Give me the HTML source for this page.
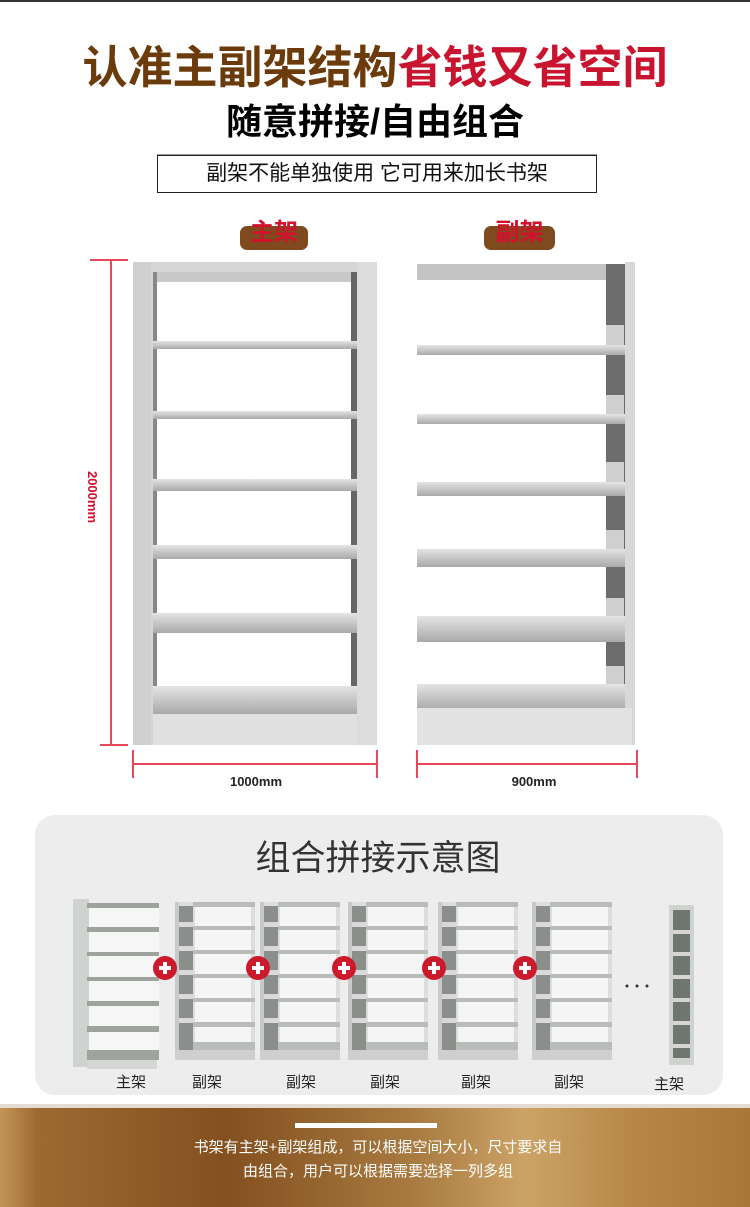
<!DOCTYPE html>
<html><head><meta charset="utf-8"><style>
*{margin:0;padding:0}
body{width:750px;height:1207px;background:#fff;position:relative;overflow:hidden;font-family:"Liberation Sans","Noto Sans CJK SC",sans-serif}
.a{position:absolute;white-space:nowrap}
</style></head><body>
<div class="a" style="left:0;top:0;width:750px;height:2px;background:#333"></div>
<div class="a" style="left:0;top:41px;width:750px;text-align:center;font-size:45px;font-weight:bold;line-height:54px;letter-spacing:0px"><span style="color:#6b3b0c">认准主副架结构</span><span style="color:#c8142e">省钱又省空间</span></div>
<div class="a" style="left:0;top:100px;width:750px;text-align:center;font-size:36px;font-weight:bold;line-height:44px;color:#000">随意拼接/自由组合</div>
<div class="a" style="left:157px;top:155px;width:438px;height:36px;border:1px solid #222;box-shadow:0 -1px 0 #999;text-align:center;font-size:21px;line-height:36px;color:#111">副架不能单独使用 它可用来加长书架</div>
<div class="a" style="left:240px;top:226px;width:68px;height:24px;background:#7e4a1e;border-radius:7px"></div>
<div class="a" style="left:240px;top:212px;width:68px;text-align:center;font-size:24px;font-weight:bold;color:#d0122c">主架</div>
<div class="a" style="left:484px;top:226px;width:71px;height:24px;background:#7e4a1e;border-radius:7px"></div>
<div class="a" style="left:484px;top:212px;width:71px;text-align:center;font-size:24px;font-weight:bold;color:#d0122c">副架</div>

<svg class="a" style="left:0;top:0" width="750" height="1207">
<defs>
<linearGradient id="sh" x1="0" y1="0" x2="0" y2="1"><stop offset="0" stop-color="#e4e4e4"/><stop offset="1" stop-color="#a9a9a9"/></linearGradient>
<g id="ss">
<rect x="0" y="0" width="80" height="158" fill="#ddd"/>
<rect x="0" y="0" width="4" height="158" fill="#c9c9c9"/>
<rect x="4" y="4" width="14" height="150" fill="#8b8f8b"/>
<rect x="20" y="4" width="56" height="140" fill="#f5f5f5"/>
<g fill="#b9bdb9"><rect x="18" y="0" width="62" height="5"/><rect x="18" y="24" width="62" height="4"/><rect x="18" y="48" width="62" height="4"/><rect x="18" y="72" width="62" height="4"/><rect x="18" y="96" width="62" height="4"/><rect x="18" y="120" width="62" height="5"/><rect x="18" y="140" width="62" height="8"/></g>
<g fill="#d9d9d9"><rect x="4" y="20" width="14" height="5"/><rect x="4" y="44" width="14" height="5"/><rect x="4" y="68" width="14" height="5"/><rect x="4" y="92" width="14" height="5"/><rect x="4" y="116" width="14" height="5"/></g>
<rect x="0" y="148" width="80" height="10" fill="#cfcfcf"/>
</g>
</defs>
<g stroke="#e8475a" stroke-width="2" fill="none">
<line x1="111" y1="260" x2="111" y2="745"/><line x1="90" y1="260" x2="128" y2="260"/><line x1="100" y1="745" x2="128" y2="745"/>
<line x1="133" y1="764" x2="377" y2="764"/><line x1="133" y1="750" x2="133" y2="778"/><line x1="377" y1="750" x2="377" y2="778"/>
<line x1="417" y1="764" x2="637" y2="764"/><line x1="417" y1="750" x2="417" y2="778"/><line x1="637" y1="750" x2="637" y2="778"/>
</g>
<text x="88" y="497" transform="rotate(90 88 497)" text-anchor="middle" font-size="13" font-weight="bold" fill="#d0102a" font-family="Liberation Sans">2000mm</text>
<text x="256" y="786" text-anchor="middle" font-size="13" font-weight="bold" fill="#222" font-family="Liberation Sans">1000mm</text>
<text x="534" y="786" text-anchor="middle" font-size="13" font-weight="bold" fill="#222" font-family="Liberation Sans">900mm</text>
<rect x="133" y="262" width="244" height="483" fill="#d6d6d6"/>
<rect x="153" y="272" width="204" height="418" fill="#fff"/>
<rect x="153" y="272" width="204" height="10" fill="#c8c8c8"/>
<rect x="153" y="272" width="4" height="418" fill="#888"/><rect x="351" y="272" width="6" height="418" fill="#666"/>
<rect x="357" y="262" width="20" height="483" fill="#dcdcdc"/><rect x="133" y="262" width="18" height="483" fill="#d0d0d0"/>
<g fill="url(#sh)"><rect x="153" y="341" width="204" height="8"/><rect x="153" y="411" width="204" height="8"/><rect x="153" y="479" width="204" height="12"/><rect x="153" y="545" width="204" height="14"/><rect x="153" y="613" width="204" height="20"/><rect x="153" y="686" width="204" height="28"/></g>
<rect x="153" y="714" width="204" height="31" fill="#e0e0e0"/>
<rect x="417" y="262" width="220" height="483" fill="#fff"/>
<rect x="417" y="264" width="210" height="16" fill="#c4c4c4"/>
<rect x="606" y="264" width="24" height="481" fill="#6c6c6c"/>
<rect x="625" y="262" width="10" height="483" fill="#d8d8d8"/>
<g fill="#cfcfcf"><rect x="606" y="325" width="18" height="20"/><rect x="606" y="395" width="18" height="20"/><rect x="606" y="462" width="18" height="22"/><rect x="606" y="530" width="18" height="22"/><rect x="606" y="598" width="18" height="22"/><rect x="606" y="666" width="18" height="20"/></g>
<g fill="url(#sh)"><rect x="417" y="345" width="208" height="10"/><rect x="417" y="414" width="208" height="10"/><rect x="417" y="482" width="208" height="14"/><rect x="417" y="549" width="208" height="18"/><rect x="417" y="616" width="208" height="26"/><rect x="417" y="684" width="208" height="26"/></g>
<rect x="417" y="708" width="215" height="37" fill="#e2e2e2"/>
<rect x="35" y="815" width="688" height="280" rx="20" fill="#ededed"/>
<rect x="73" y="899" width="16" height="168" fill="#cfd3cf"/>
<rect x="89" y="905" width="70" height="150" fill="#f6f6f6"/>
<g fill="#9ea39e"><rect x="87" y="903" width="72" height="5"/><rect x="87" y="927" width="72" height="5"/><rect x="87" y="952" width="72" height="4"/><rect x="87" y="977" width="72" height="4"/><rect x="87" y="1001" width="72" height="5"/><rect x="87" y="1026" width="72" height="6"/><rect x="87" y="1050" width="72" height="10"/></g>
<rect x="87" y="1060" width="70" height="9" fill="#d6d6d6"/>
<use href="#ss" x="175" y="902"/><use href="#ss" x="260" y="902"/><use href="#ss" x="348" y="902"/><use href="#ss" x="438" y="902"/><use href="#ss" x="532" y="902"/>
<g fill="#cc1a2c"><circle cx="165" cy="968" r="12"/><circle cx="258" cy="968" r="12"/><circle cx="344" cy="968" r="12"/><circle cx="434" cy="968" r="12"/><circle cx="525" cy="968" r="12"/></g>
<g fill="#fff"><rect x="159" y="966" width="12" height="4"/><rect x="163" y="962" width="4" height="12"/><rect x="252" y="966" width="12" height="4"/><rect x="256" y="962" width="4" height="12"/><rect x="338" y="966" width="12" height="4"/><rect x="342" y="962" width="4" height="12"/><rect x="428" y="966" width="12" height="4"/><rect x="432" y="962" width="4" height="12"/><rect x="519" y="966" width="12" height="4"/><rect x="523" y="962" width="4" height="12"/></g>
<rect x="669" y="905" width="25" height="160" fill="#cfd3cf"/>
<rect x="673" y="910" width="17" height="148" fill="#6f756f"/>
<g fill="#d5d5d5"><rect x="673" y="930" width="17" height="4"/><rect x="673" y="952" width="17" height="4"/><rect x="673" y="975" width="17" height="4"/><rect x="673" y="998" width="17" height="4"/><rect x="673" y="1021" width="17" height="4"/><rect x="673" y="1044" width="17" height="4"/></g>
<g fill="#333"><circle cx="627" cy="986" r="1.5"/><circle cx="637" cy="986" r="1.5"/><circle cx="647" cy="986" r="1.5"/></g>
<defs><linearGradient id="bn" x1="0" x2="1"><stop offset="0" stop-color="#c49557"/><stop offset="0.05" stop-color="#9d6a33"/><stop offset="0.3" stop-color="#83501f"/><stop offset="0.55" stop-color="#a87a40"/><stop offset="0.7" stop-color="#cca366"/><stop offset="0.85" stop-color="#b68645"/><stop offset="1" stop-color="#a87838"/></linearGradient></defs>
<rect x="0" y="1104" width="750" height="4" fill="#e4dcd2"/>
<rect x="0" y="1108" width="750" height="99" fill="url(#bn)"/>
<rect x="295" y="1123" width="142" height="5" fill="#fff"/>
</svg>
<div class="a" style="left:0;top:830px;width:756px;text-align:center;font-size:35px;color:#333">组合拼接示意图</div>
<div class="a" style="left:116px;top:1071px;font-size:15px;color:#222">主架</div>
<div class="a" style="left:192px;top:1071px;font-size:15px;color:#222">副架</div>
<div class="a" style="left:286px;top:1071px;font-size:15px;color:#222">副架</div>
<div class="a" style="left:370px;top:1071px;font-size:15px;color:#222">副架</div>
<div class="a" style="left:461px;top:1071px;font-size:15px;color:#222">副架</div>
<div class="a" style="left:554px;top:1071px;font-size:15px;color:#222">副架</div>
<div class="a" style="left:654px;top:1073px;font-size:15px;color:#222">主架</div>
<div class="a" style="left:0;top:1136px;width:756px;text-align:center;font-size:15px;line-height:24px;color:#fff">书架有主架+副架组成，可以根据空间大小，尺寸要求自<br>由组合，用户可以根据需要选择一列多组</div>
</body></html>
